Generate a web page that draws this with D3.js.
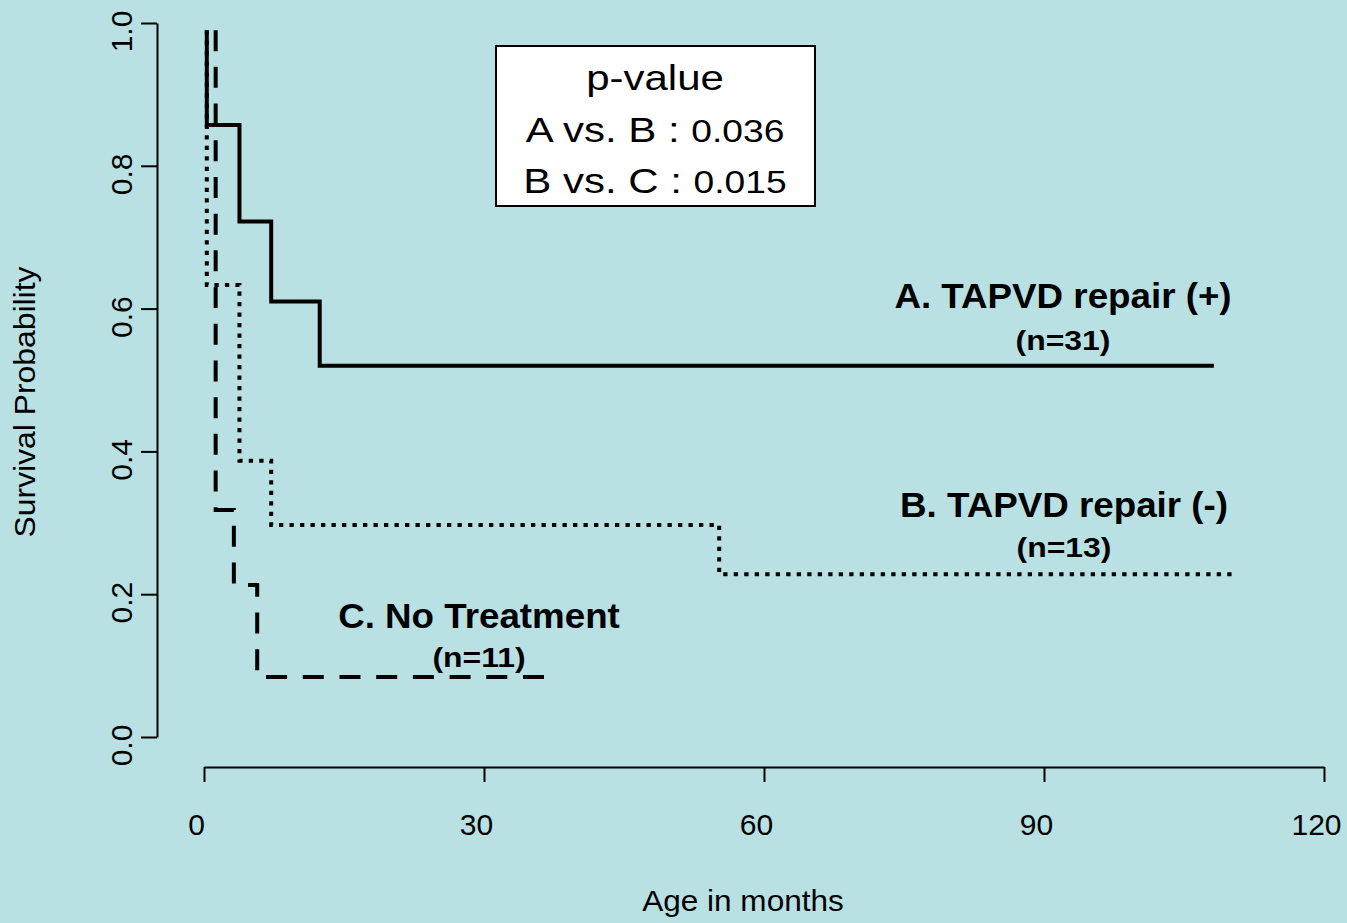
<!DOCTYPE html>
<html><head><meta charset="utf-8">
<script src="https://cdn.jsdelivr.net/npm/d3@7"></script>
<style>
html,body{margin:0;padding:0;background:#b9e0e3;}
svg{display:block;font-family:"Liberation Sans",Arial,sans-serif;}
</style></head>
<body>
<svg id="chart" width="1347" height="923"></svg>
<script>
// ---- data ----
const xTicks = [0, 30, 60, 90, 120];
const yTicks = [0.0, 0.2, 0.4, 0.6, 0.8, 1.0];
// Group A: TAPVD repair (+)
const timesA = [0.3, 0.3, 3.8, 7.2, 12.4];
const survA  = [0.99, 0.857, 0.722, 0.61, 0.52];
const endA = 108.2;
// Group B: TAPVD repair (-)
const timesB = [0.3, 0.3, 3.8, 7.2, 55.2];
const survB  = [0.99, 0.633, 0.387, 0.297, 0.228];
const endB = 110.1;
// Group C: No Treatment
const timesC = [1.25, 1.25, 3.2, 5.7];
const survC  = [0.99, 0.318, 0.213, 0.084];
const endC = 37.3;
const pLines = [["A vs. B : ", "0.036"], ["B vs. C : ", "0.015"]];

const svg = d3.select("#chart");
svg.append("rect").attr("width",1347).attr("height",923).attr("fill","#b9e0e3");

const x = d3.scaleLinear().domain([0,120]).range([204,1324]);
const y = d3.scaleLinear().domain([0,1]).range([737,23]);

// axes
const xAxis = svg.append("g").attr("transform","translate(0,767)")
  .call(d3.axisBottom(x).tickValues(xTicks).tickSize(15).tickSizeOuter(0).tickPadding(32).tickFormat(d3.format("d")));
const yAxis = svg.append("g").attr("transform","translate(157,0)")
  .call(d3.axisLeft(y).tickValues(yTicks).tickSize(16).tickSizeOuter(0).tickFormat(d3.format(".1f")));
[xAxis,yAxis].forEach(a=>{
  a.selectAll("path,line").attr("stroke","#000").attr("stroke-width",2);
  a.selectAll("text").attr("fill","#000").style("font-size","30px").style("font-family","'Liberation Sans',Arial,sans-serif");
});
xAxis.selectAll("text").attr("dx","-8").attr("dy","0.71em");
yAxis.selectAll("text").attr("x",null).attr("dy",null).attr("text-anchor","middle")
  .attr("transform","translate(-25,8) rotate(-90)");

// text helper: centred, optionally rotated, stretched along the text direction
function txt(cx, cy, str, size, weight, sx, rot){
  return svg.append("text")
    .attr("transform",`translate(${cx},${cy})${rot?` rotate(${rot})`:""} scale(${sx},1)`)
    .attr("text-anchor","middle").style("font-size",size+"px")
    .style("font-weight",weight).attr("fill","#000").text(str);
}

// titles
txt(743, 911, "Age in months", 29.5, "normal", 1.07);
txt(35, 402, "Survival Probability", 29.5, "normal", 1.08, -90);

// step curves
function stepPts(times, surv, end){
  const pts = [];
  for(let i=0;i<times.length;i++){
    if(i>0) pts.push([times[i], surv[i-1]]);
    pts.push([times[i], surv[i]]);
  }
  pts.push([end, surv[surv.length-1]]);
  return pts;
}
const line = d3.line().x(d=>x(d[0])).y(d=>y(d[1]));
svg.append("path").datum(stepPts(timesB,survB,endB)).attr("d",line)
  .attr("fill","none").attr("stroke","#000").attr("stroke-width",4)
  .attr("stroke-dasharray","4.3,6.2");
svg.append("path").datum(stepPts(timesC,survC,endC)).attr("d",line)
  .attr("fill","none").attr("stroke","#000").attr("stroke-width",4)
  .attr("stroke-dasharray","21,15.7");
svg.append("path").datum(stepPts(timesA,survA,endA)).attr("d",line)
  .attr("fill","none").attr("stroke","#000").attr("stroke-width",4);

// group labels
function label(cx, y1, t1, y2, t2){
  txt(cx, y1, t1, 35, "bold", 1.05);
  txt(cx, y2, t2, 28.5, "bold", 1.12);
}
label(1063, 308, "A. TAPVD repair (+)", 350, "(n=31)");
label(1064, 517, "B. TAPVD repair (-)", 557, "(n=13)");
label(479, 628, "C. No Treatment", 667, "(n=11)");

// p-value box
svg.append("rect").attr("x",496).attr("y",46).attr("width",319).attr("height",160)
  .attr("fill","#fff").attr("stroke","#000").attr("stroke-width",2);
txt(655, 90, "p-value", 35, "normal", 1.2);
pLines.forEach((p,i)=>{
  const t = svg.append("text").attr("transform",`translate(655,${141.5+i*51}) scale(1.2,1)`)
    .attr("text-anchor","middle");
  t.append("tspan").style("font-size","35px").text(p[0]);
  t.append("tspan").style("font-size","31px").text(p[1]);
});
</script>
</body></html>
